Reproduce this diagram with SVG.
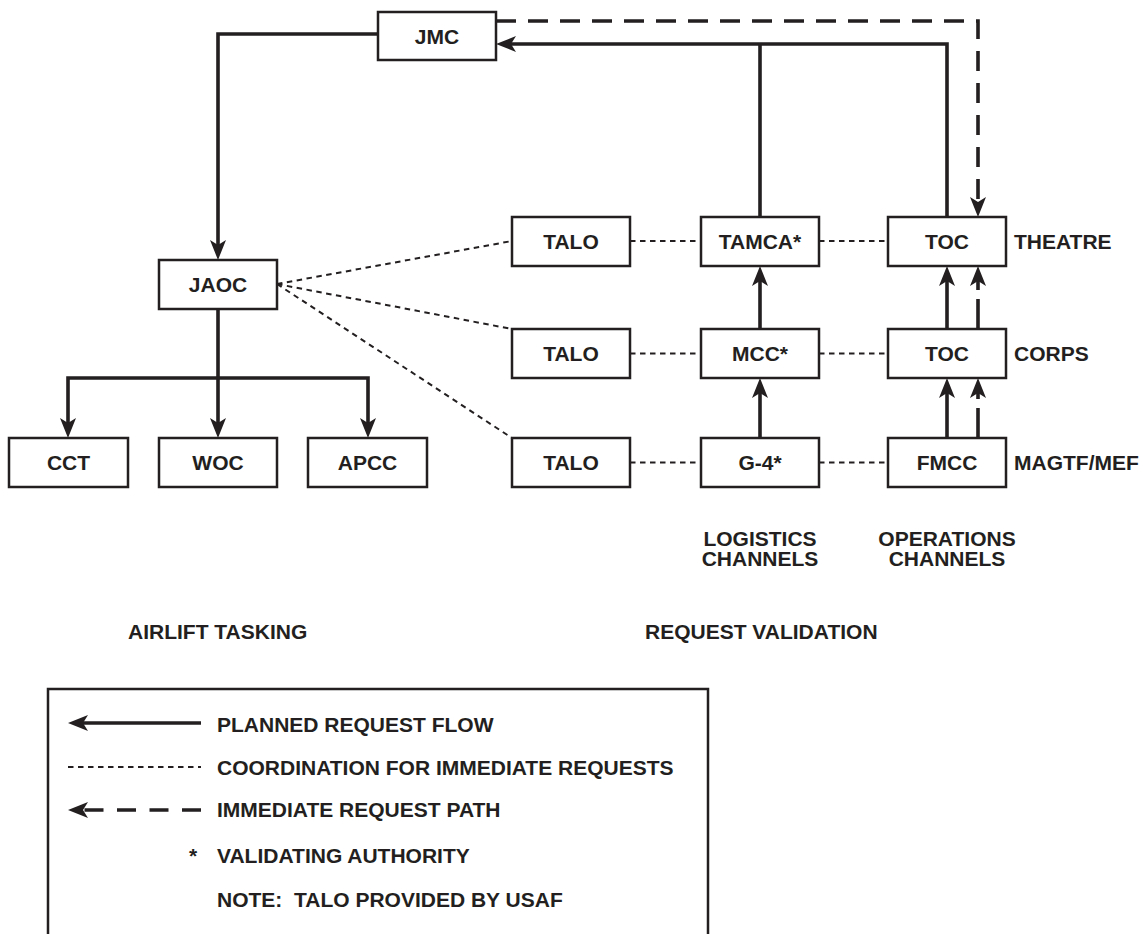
<svg xmlns="http://www.w3.org/2000/svg" width="1143" height="934" viewBox="0 0 1143 934">
<defs>
<style>
.box{fill:#fff;stroke:#231f20;stroke-width:2.5}
.t{font-family:"Liberation Sans",Arial,Helvetica,sans-serif;font-weight:bold;font-size:21px;fill:#231f20}
.c{text-anchor:middle}
.ln{fill:none;stroke:#231f20;stroke-width:3.6}
.dash{stroke-dasharray:20 12}
.sdash{stroke-dasharray:30 9}
.dot{fill:none;stroke:#231f20;stroke-width:2;stroke-dasharray:5.5 4.5}
.pre{white-space:pre}
</style>
<marker id="ah" viewBox="0 0 20 16" markerWidth="20" markerHeight="16" refX="10" refY="8" orient="auto" markerUnits="userSpaceOnUse">
<path d="M0,0 L20,8 L0,16 L5,8 Z" fill="#231f20"/>
</marker>
<marker id="ahs" viewBox="0 0 20 16" markerWidth="20" markerHeight="16" refX="10" refY="8" orient="auto-start-reverse" markerUnits="userSpaceOnUse">
<path d="M0,0 L20,8 L0,16 L5,8 Z" fill="#231f20"/>
</marker>
</defs>
<rect width="1143" height="934" fill="#fff"/>

<g id="connectors">
<!-- planned request flow (solid) -->
<path class="ln" d="M378,34 H218 V250" marker-end="url(#ah)"/>
<path class="ln" d="M218,309 V428" marker-end="url(#ah)"/>
<path class="ln" d="M68,428 V378 H368 V428" marker-start="url(#ahs)" marker-end="url(#ah)"/>
<path class="ln" d="M947,217 V44 H506" marker-end="url(#ah)"/>
<path class="ln" d="M760,217 V44"/>
<path class="ln" d="M760,438 V388" marker-end="url(#ah)"/>
<path class="ln" d="M760,329 V276" marker-end="url(#ah)"/>
<path class="ln" d="M947,438 V388" marker-end="url(#ah)"/>
<path class="ln" d="M947,329 V276" marker-end="url(#ah)"/>
<!-- immediate request path (dashed) -->
<path class="ln dash" d="M496,21 H978 V207" marker-end="url(#ah)"/>
<path class="ln sdash" d="M978,438 V388" marker-end="url(#ah)"/>
<path class="ln sdash" d="M978,329 V276" marker-end="url(#ah)"/>
<!-- coordination (dotted) -->
<path class="dot" d="M277,284 L512,241"/>
<path class="dot" d="M277,284 L512,329"/>
<path class="dot" d="M277,284 L512,438"/>
<path class="dot" d="M630,241 H701"/>
<path class="dot" d="M819,241 H888"/>
<path class="dot" d="M630,353.5 H701"/>
<path class="dot" d="M819,353.5 H888"/>
<path class="dot" d="M630,462.5 H701"/>
<path class="dot" d="M819,462.5 H888"/>
</g>

<g id="jmc"><rect class="box" x="378" y="12" width="118" height="48"/><text class="t c" x="437" y="43.5">JMC</text></g>
<g id="jaoc"><rect class="box" x="159" y="260" width="118" height="49"/><text class="t c" x="218" y="292">JAOC</text></g>
<g id="cct"><rect class="box" x="9" y="438" width="119" height="49"/><text class="t c" x="68.5" y="470">CCT</text></g>
<g id="woc"><rect class="box" x="159" y="438" width="118" height="49"/><text class="t c" x="218" y="470">WOC</text></g>
<g id="apcc"><rect class="box" x="308" y="438" width="119" height="49"/><text class="t c" x="367.5" y="470">APCC</text></g>

<g id="talo1"><rect class="box" x="512" y="217" width="118" height="49"/><text class="t c" x="571" y="249">TALO</text></g>
<g id="tamca"><rect class="box" x="701" y="217" width="118" height="49"/><text class="t c" x="760" y="249">TAMCA*</text></g>
<g id="toc1"><rect class="box" x="888" y="217" width="118" height="49"/><text class="t c" x="947" y="249">TOC</text></g>

<g id="talo2"><rect class="box" x="512" y="329" width="118" height="49"/><text class="t c" x="571" y="361">TALO</text></g>
<g id="mcc"><rect class="box" x="701" y="329" width="118" height="49"/><text class="t c" x="760" y="361">MCC*</text></g>
<g id="toc2"><rect class="box" x="888" y="329" width="118" height="49"/><text class="t c" x="947" y="361">TOC</text></g>

<g id="talo3"><rect class="box" x="512" y="438" width="118" height="49"/><text class="t c" x="571" y="470">TALO</text></g>
<g id="g4"><rect class="box" x="701" y="438" width="118" height="49"/><text class="t c" x="760" y="470">G-4*</text></g>
<g id="fmcc"><rect class="box" x="888" y="438" width="118" height="49"/><text class="t c" x="947" y="470">FMCC</text></g>

<g id="labels">
<text class="t" x="1014" y="249">THEATRE</text>
<text class="t" x="1014" y="361">CORPS</text>
<text class="t" x="1014" y="470">MAGTF/MEF</text>
<text class="t c" x="760" y="546">LOGISTICS</text>
<text class="t c" x="760" y="566">CHANNELS</text>
<text class="t c" x="947" y="546">OPERATIONS</text>
<text class="t c" x="947" y="566">CHANNELS</text>
<text class="t" x="128" y="639">AIRLIFT TASKING</text>
<text class="t" x="645" y="639">REQUEST VALIDATION</text>
</g>

<g id="legend">
<rect class="box" x="48" y="689" width="660" height="270"/>
<path class="ln" d="M201,723 H78" marker-end="url(#ah)"/>
<path class="dot" d="M68,767 H201"/>
<path class="ln" style="stroke-dasharray:19 13.5" d="M201,810 H78" marker-end="url(#ah)"/>
<text class="t" x="217" y="731.5">PLANNED REQUEST FLOW</text>
<text class="t" x="217" y="775">COORDINATION FOR IMMEDIATE REQUESTS</text>
<text class="t" x="217" y="817">IMMEDIATE REQUEST PATH</text>
<text class="t" x="189" y="863">*</text>
<text class="t" x="217" y="863">VALIDATING AUTHORITY</text>
<text class="t pre" x="217" y="906.5">NOTE:  TALO PROVIDED BY USAF</text>
</g>
</svg>
